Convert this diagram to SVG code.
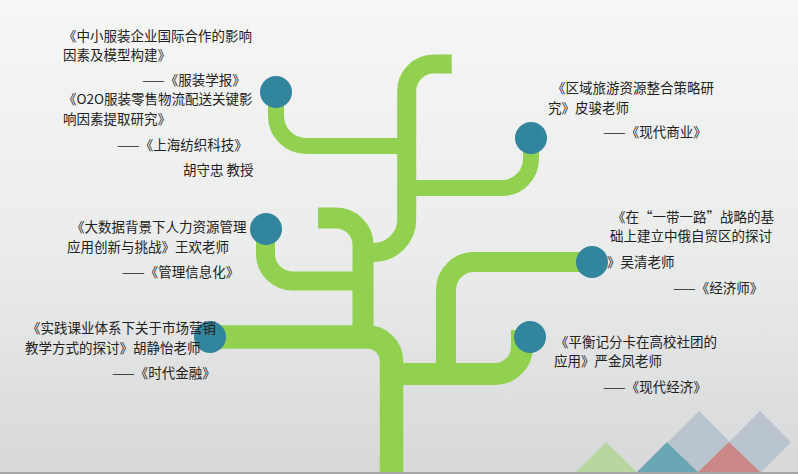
<svg xmlns="http://www.w3.org/2000/svg" width="798" height="474" viewBox="0 0 798 474">
  <defs>
    <linearGradient id="bg" x1="0" y1="0" x2="0" y2="1">
      <stop offset="0" stop-color="#f6f6f6"/>
      <stop offset="0.55" stop-color="#eaebeb"/>
      <stop offset="1" stop-color="#d6d8d9"/>
    </linearGradient>
  </defs>
  <style>
    .br { fill: none; stroke: #92d050; stroke-linecap: butt; stroke-linejoin: round; }
    .dot { fill: #31859c; }
    .t { font-family: "Noto Sans CJK SC", "Noto Sans", sans-serif; font-size: 13.5px; fill: #222222; }
  </style>
  <rect x="0" y="0" width="798" height="474" fill="url(#bg)"/>

  <g id="decor">
    <polygon points="699,411 730,442 699,473 668,442" fill="#b9c4ce"/>
    <polygon points="760,411 791,442 760,473 729,442" fill="#b9c4ce"/>
    <polygon points="576,472 606,442 637,472" fill="#b8d6a0"/>
    <polygon points="637,472 667,442 698,472" fill="#6aa6b3"/>
    <polygon points="698,472 729,442 760,472" fill="#c98886"/>
    <rect x="0" y="472" width="798" height="2" fill="#a6a6a6"/>
  </g>

  <g id="connectors">
    <path class="br" stroke-width="23.5" d="M 210,337 H 367.5 A 24 24 0 0 1 391.5,361 V 472"/>
    <path class="br" stroke-width="21" d="M 318,218 H 336 A 27 27 0 0 1 363,245 V 337"/>
    <path class="br" stroke-width="19" d="M 265.5,229 V 254 A 27 27 0 0 0 292.5,281 H 363"/>
    <path class="br" stroke-width="19" d="M 451.7,64 H 433.7 A 27 27 0 0 0 406.7,91 V 219.5 A 33 33 0 0 1 373.7,252.5 H 362"/>
    <path class="br" stroke-width="16" d="M 276,92 V 116 A 30 30 0 0 0 306,146 H 407"/>
    <path class="br" stroke-width="16" d="M 531,138 V 159 A 29 29 0 0 1 502,188 H 407"/>
    <path class="br" stroke-width="20" d="M 592,262 H 474 A 28 28 0 0 0 446,290 V 374"/>
    <path class="br" stroke-width="22" d="M 391.5,374 H 495 A 27 27 0 0 0 522,347 V 330"/>
  </g>

  <g id="node-fuzhuang">
    <circle class="dot" cx="276" cy="92" r="16"/>
    <text class="t" x="63" y="41">《中小服装企业国际合作的影响</text>
    <text class="t" x="63" y="60">因素及模型构建》</text>
    <text class="t" x="142" y="85">——《服装学报》</text>
    <text class="t" x="63" y="104">《O2O服装零售物流配送关键影</text>
    <text class="t" x="63" y="124">响因素提取研究》</text>
    <text class="t" x="117" y="150">——《上海纺织科技》</text>
    <text class="t" x="183" y="175">胡守忠 教授</text>
  </g>

  <g id="node-lvyou">
    <circle class="dot" cx="531" cy="138" r="16"/>
    <text class="t" x="552" y="93">《区域旅游资源整合策略研</text>
    <text class="t" x="548" y="113">究》皮骏老师</text>
    <text class="t" x="603" y="137">——《现代商业》</text>
  </g>

  <g id="node-dashuju">
    <circle class="dot" cx="266" cy="229" r="16"/>
    <text class="t" x="71" y="232">《大数据背景下人力资源管理</text>
    <text class="t" x="67" y="252">应用创新与挑战》王欢老师</text>
    <text class="t" x="122" y="277">——《管理信息化》</text>
  </g>

  <g id="node-yidaiyilu">
    <circle class="dot" cx="592" cy="262" r="16"/>
    <text class="t" x="612" y="222">《在“一带一路”战略的基</text>
    <text class="t" x="610" y="241">础上建立中俄自贸区的探讨</text>
    <text class="t" x="607" y="267">》吴清老师</text>
    <text class="t" x="673" y="293">——《经济师》</text>
  </g>

  <g id="node-shijian">
    <circle class="dot" cx="210" cy="337" r="16"/>
    <text class="t" x="27" y="333">《实践课业体系下关于市场营销</text>
    <text class="t" x="25" y="353">教学方式的探讨》胡静怡老师</text>
    <text class="t" x="112" y="378">——《时代金融》</text>
  </g>

  <g id="node-pingheng">
    <circle class="dot" cx="530" cy="337" r="16"/>
    <text class="t" x="555" y="347">《平衡记分卡在高校社团的</text>
    <text class="t" x="554" y="366">应用》严金凤老师</text>
    <text class="t" x="603" y="392">——《现代经济》</text>
  </g>
</svg>
